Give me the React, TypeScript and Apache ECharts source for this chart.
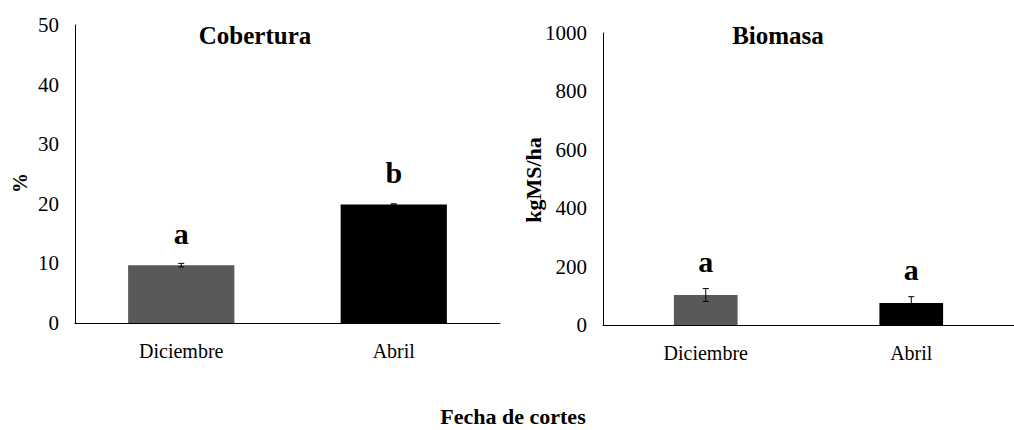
import React, { useEffect, useRef } from "react";
import * as echarts from "echarts";

const categories = ["Diciembre", "Abril"];
const coberturaValues = [9.7, 19.9];
const coberturaErrors = [0.3, 0.1];
const coberturaLetters = ["a", "b"];
const biomasaValues = [103, 75];
const biomasaErrors = [22, 22];
const biomasaLetters = ["a", "a"];
const barColors = ["#595959", "#000000"];

const FONT = "Liberation Serif";

function errorRender(params: any, api: any) {
  const i = api.value(0);
  const v = api.value(1);
  const e = api.value(2);
  const top = api.coord([i, v + e]);
  const bot = api.coord([i, v - e]);
  const cap = 3;
  const style = { stroke: "#000", lineWidth: 1 };
  return {
    type: "group",
    children: [
      { type: "line", shape: { x1: top[0], y1: top[1], x2: bot[0], y2: bot[1] }, style },
      { type: "line", shape: { x1: top[0] - cap, y1: top[1], x2: top[0] + cap, y2: top[1] }, style },
      { type: "line", shape: { x1: bot[0] - cap, y1: bot[1], x2: bot[0] + cap, y2: bot[1] }, style },
    ],
  };
}

function letterRender(letters: string[], offset: number) {
  return (params: any, api: any) => {
    const i = api.value(0);
    const p = api.coord([i, api.value(1)]);
    return {
      type: "text",
      x: p[0],
      y: p[1] - offset,
      style: {
        text: letters[params.dataIndex],
        fontFamily: FONT,
        fontWeight: "bold",
        fontSize: 30,
        fill: "#000",
        textAlign: "center",
        textVerticalAlign: "middle",
      },
    };
  };
}

export default function App() {
  const ref = useRef<HTMLDivElement>(null);
  useEffect(() => {
    document.body.style.margin = "0";
    const chart = echarts.init(ref.current!, undefined, { renderer: "svg" });
    const axisLabel = { color: "#000", fontFamily: FONT, fontSize: 21, formatter: (v: number) => String(v) };
    const catLabel = { color: "#000", fontFamily: FONT, fontSize: 20, margin: 18 };
    const axisLine = { show: true, lineStyle: { color: "#000", width: 1 } };
    chart.setOption({
      animation: false,
      backgroundColor: "#fff",
      textStyle: { fontFamily: FONT },
      grid: [
        { left: 75, top: 25, width: 425, bottom: 107 },
        { left: 603, top: 33, width: 420, bottom: 105 },
      ],
      xAxis: [
        {
          type: "category", gridIndex: 0, data: categories,
          axisLine, axisTick: { show: false }, axisLabel: catLabel,
        },
        {
          type: "category", gridIndex: 1, data: categories,
          axisLine, axisTick: { show: false }, axisLabel: catLabel,
        },
      ],
      yAxis: [
        {
          type: "value", gridIndex: 0, min: 0, max: 50, interval: 10,
          axisLine, axisTick: { show: false }, splitLine: { show: false },
          axisLabel: { ...axisLabel, margin: 16 },
        },
        {
          type: "value", gridIndex: 1, min: 0, max: 1000, interval: 200,
          axisLine, axisTick: { show: false }, splitLine: { show: false },
          axisLabel: { ...axisLabel, margin: 16 },
        },
      ],
      series: [
        {
          type: "bar", xAxisIndex: 0, yAxisIndex: 0, barWidth: "50%",
          data: coberturaValues.map((v, i) => ({ value: v, itemStyle: { color: barColors[i] } })),
        },
        {
          type: "custom", xAxisIndex: 0, yAxisIndex: 0, renderItem: errorRender, z: 5,
          data: coberturaValues.map((v, i) => [i, v, coberturaErrors[i]]),
        },
        {
          type: "custom", xAxisIndex: 0, yAxisIndex: 0, renderItem: letterRender(coberturaLetters, 32),
          data: coberturaValues.map((v, i) => [i, v]),
        },
        {
          type: "bar", xAxisIndex: 1, yAxisIndex: 1, barWidth: "31%",
          data: biomasaValues.map((v, i) => ({ value: v, itemStyle: { color: barColors[i] } })),
        },
        {
          type: "custom", xAxisIndex: 1, yAxisIndex: 1, renderItem: errorRender, z: 5,
          data: biomasaValues.map((v, i) => [i, v, biomasaErrors[i]]),
        },
        {
          type: "custom", xAxisIndex: 1, yAxisIndex: 1, renderItem: letterRender(biomasaLetters, 27),
          data: biomasaValues.map((v, i) => [i, v + biomasaErrors[i]]),
        },
      ],
      graphic: [
        {
          type: "text", x: 255, y: 35,
          style: { text: "Cobertura", fontFamily: FONT, fontWeight: "bold", fontSize: 25, fill: "#000", textAlign: "center", textVerticalAlign: "middle" },
        },
        {
          type: "text", x: 778, y: 35,
          style: { text: "Biomasa", fontFamily: FONT, fontWeight: "bold", fontSize: 25, fill: "#000", textAlign: "center", textVerticalAlign: "middle" },
        },
        {
          type: "text", x: 20, y: 183, rotation: Math.PI / 2,
          style: { text: "%", fontFamily: FONT, fontWeight: "bold", fontSize: 20, fill: "#000", textAlign: "center", textVerticalAlign: "middle" },
        },
        {
          type: "text", x: 533, y: 180, rotation: Math.PI / 2,
          style: { text: "kgMS/ha", fontFamily: FONT, fontWeight: "bold", fontSize: 22, fill: "#000", textAlign: "center", textVerticalAlign: "middle" },
        },
        {
          type: "text", x: 513, y: 416,
          style: { text: "Fecha de cortes", fontFamily: FONT, fontWeight: "bold", fontSize: 22, fill: "#000", textAlign: "center", textVerticalAlign: "middle" },
        },
      ],
    });
    return () => chart.dispose();
  }, []);
  return <div ref={ref} style={{ width: 1014, height: 430 }} />;
}
